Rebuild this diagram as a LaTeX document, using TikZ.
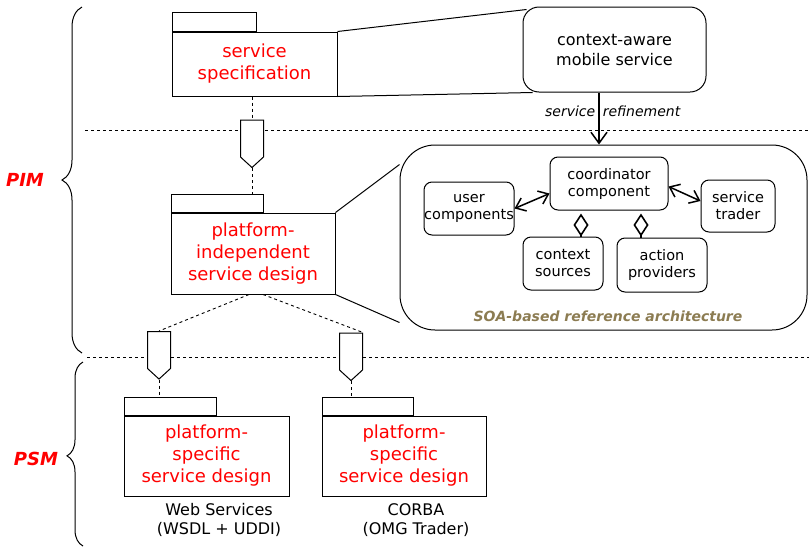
\documentclass[tikz,border=0pt]{standalone}
\usepackage{fontspec}
\setmainfont{DejaVu Sans}
\usetikzlibrary{arrows.meta,shapes.symbols,decorations.pathreplacing}

\tikzset{
  pkg/.style={draw, line width=1pt, minimum width=165pt, minimum height=80pt,
    inner sep=0pt, align=center, text=red, font=\fontsize{18pt}{22pt}\selectfont},
  pkgtab/.style={draw, line width=1pt, minimum width=92pt, minimum height=18pt,
    inner sep=0pt, anchor=south west},
  realize/.style={draw, fill=white, line width=1pt, shape=signal, signal to=south,
    signal pointer angle=95, minimum width=23pt, minimum height=37pt, inner sep=0pt},
  comp/.style={draw, rounded corners=8pt, line width=1pt, align=center, inner sep=0pt,
    font=\fontsize{14.5pt}{17pt}\selectfont},
  trace/.style={line width=0.9pt, dash pattern=on 3pt off 3pt},
  level/.style={text=red, font=\fontsize{18pt}{22pt}\selectfont\bfseries\itshape},
  platlbl/.style={align=center, font=\fontsize{16pt}{19pt}\selectfont},
  assoc/.style={line width=1.5pt, {Straight Barb[length=9pt,width=14pt]}-{Straight Barb[length=9pt,width=14pt]}},
  part/.style={line width=1.6pt, {Diamond[open,length=23pt,width=15pt]}-}
}

\begin{document}
\begin{tikzpicture}[x=1pt, y=-1pt]
  \useasboundingbox (0,0) rectangle (809,547);

  % levels
  \draw[trace] (85,130) -- (809,130);
  \draw[trace] (87,357) -- (809,357);
  \draw[line width=1pt, decorate, decoration={brace, amplitude=20pt}] (82,353) -- (82,7);
  \draw[line width=1pt, decorate, decoration={brace, amplitude=16pt, aspect=0.49}] (83,546) -- (83,362);
  \node[level] (pim) at (25,180) {PIM};
  \node[level] (psm) at (36,459) {PSM};

  % packages
  \node[pkg, minimum height=64pt] (spec) at (254.5,64) {service\\specification};
  \node[pkgtab, minimum width=84pt, minimum height=19pt] (spectab) at (spec.north west) {};
  \node[pkg, minimum width=164pt, minimum height=81pt] (indep) at (253,253.5) {platform-\\independent\\service design};
  \node[pkgtab] (indeptab) at (indep.north west) {};
  \node[pkg] (wsd) at (206.5,456) {platform-\\specific\\service design};
  \node[pkgtab] (wsdtab) at (wsd.north west) {};
  \node[pkg, minimum width=164pt] (corba) at (404,456) {platform-\\specific\\service design};
  \node[pkgtab, minimum width=91pt] (corbatab) at (corba.north west) {};

  \node[platlbl] (wslbl) at (219,520) {Web Services\\(WSDL + UDDI)};
  \node[platlbl] (corbalbl) at (416,520) {CORBA\\(OMG Trader)};

  % realizations
  \node[realize] (real1) at (252,138.5) {};
  \node[realize] (real2) at (159,350) {};
  \node[realize] (real3) at (351,351.5) {};
  \draw[trace] (spec.south -| real1.north) -- (real1.north);
  \draw[trace] (real1.south) -- (real1.south |- indeptab.north);
  \draw[trace] ([xshift=-4pt]indep.south) -- (real2.north);
  \draw[trace] ([xshift=10pt]indep.south) -- (real3.north east);
  \draw[trace] (real2.south) -- (real2.south |- wsdtab.north);
  \draw[trace] (real3.south) -- (real3.south |- corbatab.north);

  % service
  \node[draw, rounded corners=16pt, line width=1pt, minimum width=183pt, minimum height=85pt,
    align=center, font=\fontsize{16pt}{20pt}\selectfont] (cams) at (614.5,49.5) {context-aware\\mobile service};
  \draw[line width=1pt] (spec.north east) -- ([shift={(4pt,-3pt)}]cams.north west);
  \draw[line width=1pt] (spec.south east) -- ([xshift=10pt]cams.south west);

  % reference architecture
  \node[draw, rounded corners=35pt, line width=1pt, minimum width=407pt, minimum height=185pt] (soa) at (603.5,237.5) {};
  \draw[line width=1.5pt, -{Straight Barb[length=11pt,width=16pt]}] ([xshift=-15.5pt]cams.south) -- ([xshift=-15.5pt]cams.south |- soa.north)
    node[pos=0.37, left, font=\fontsize{14pt}{17pt}\selectfont\itshape, inner sep=3pt] (refl) {service}
    node[pos=0.37, right, font=\fontsize{14pt}{17pt}\selectfont\itshape, inner sep=3pt] (refr) {refinement};
  \draw[line width=1pt] (indep.north east) -- ([yshift=-20pt]soa.north west);
  \draw[line width=1pt] (indep.south east) -- ([yshift=8pt]soa.south west);

  \node[comp, minimum width=118pt, minimum height=53pt] (coord) at (609,183.5) {coordinator\\component};
  \node[comp, minimum width=90pt, minimum height=53pt] (user) at (469,208.5) {user\\components};
  \node[comp, minimum width=74pt, minimum height=52pt] (trader) at (738,206) {service\\trader};
  \node[comp, minimum width=80pt, minimum height=53pt] (ctxsrc) at (563,263.5) {context\\sources};
  \node[comp, minimum width=90pt, minimum height=54pt] (action) at (662,265) {action\\providers};
  \node[text={rgb,255:red,140;green,124;blue,82}, font=\fontsize{14pt}{17pt}\selectfont\bfseries\itshape] (soalbl) at (608,316) {SOA-based reference architecture};

  \draw[assoc] (user.east) -- ([yshift=-10pt]coord.west);
  \draw[assoc] ([yshift=-3pt]coord.east) -- ([yshift=5pt]trader.west);
  \draw[part] ([shift={(18pt,-3pt)}]ctxsrc.north |- coord.south) -- ([xshift=18pt]ctxsrc.north);
  \draw[part] ([shift={(-21pt,-3pt)}]action.north |- coord.south) -- ([xshift=-21pt]action.north);
\end{tikzpicture}
\end{document}
